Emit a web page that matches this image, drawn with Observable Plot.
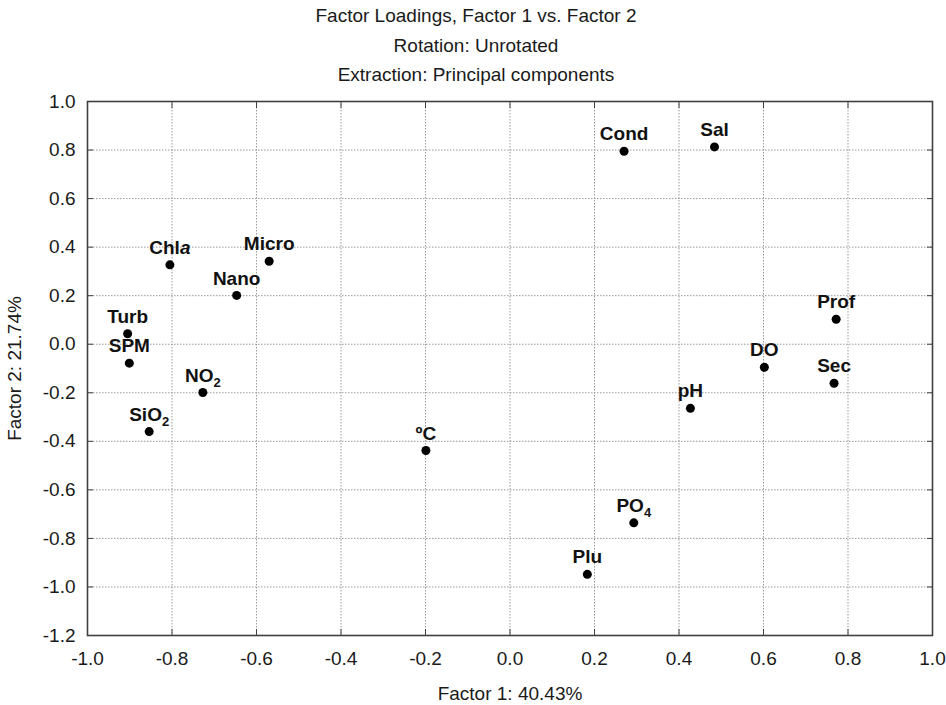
<!DOCTYPE html>
<html><head><meta charset="utf-8">
<script src="https://cdn.jsdelivr.net/npm/d3@7"></script>
<script src="https://cdn.jsdelivr.net/npm/@observablehq/plot@0.6"></script>
<style>
body{margin:0;background:#fff;font-family:"Liberation Sans",Arial,sans-serif;}
#title{height:90px;width:946px;text-align:center;font-size:19px;line-height:29.5px;color:#1a1a1a;padding-top:1px;box-sizing:border-box;padding-left:6px}
</style></head><body>
<div id="title"><div>Factor Loadings, Factor 1 vs. Factor 2</div><div>Rotation: Unrotated</div><div>Extraction: Principal components</div></div>
<div id="chart"></div>
<script>
const variables = ["Cond","Sal","Chla","Micro","Nano","Turb","SPM","NO2","SiO2","ºC","Prof","DO","Sec","pH","PO4","Plu"];
const factor1 = [0.270,0.484,-0.805,-0.570,-0.647,-0.905,-0.901,-0.727,-0.854,-0.199,0.772,0.602,0.767,0.427,0.293,0.183];
const factor2 = [0.795,0.813,0.327,0.342,0.201,0.043,-0.078,-0.199,-0.360,-0.438,0.103,-0.095,-0.161,-0.264,-0.736,-0.948];
const xTicks = [-1.0,-0.8,-0.6,-0.4,-0.2,0.0,0.2,0.4,0.6,0.8,1.0];
const yTicks = [1.0,0.8,0.6,0.4,0.2,0.0,-0.2,-0.4,-0.6,-0.8,-1.0,-1.2];
const xLabel = "Factor 1: 40.43%";
const yLabel = "Factor 2: 21.74%";

const data = variables.map((v, i) => ({name: v, f1: factor1[i], f2: factor2[i]}));
const fmt = d => d.toFixed(1);

const chart = Plot.plot({
  width: 946,
  height: 615,
  marginTop: 11,
  marginBottom: 70,
  marginLeft: 87,
  marginRight: 14,
  style: {fontFamily: '"Liberation Sans", Arial, sans-serif', fontSize: "19px", color: "#1a1a1a", background: "#fff"},
  x: {domain: [-1, 1]},
  y: {domain: [-1.2, 1]},
  marks: [
    Plot.gridX(xTicks, {stroke: "#9a9a9a", strokeOpacity: 1, strokeDasharray: "1.5,1.5"}),
    Plot.gridY(yTicks, {stroke: "#9a9a9a", strokeOpacity: 1, strokeDasharray: "1.5,1.5"}),
    Plot.axisX(xTicks, {anchor: "bottom", tickSize: -6, tickPadding: 22, tickFormat: fmt, fontSize: 19, label: xLabel, labelArrow: "none", labelAnchor: "center", labelOffset: 64, stroke: "#404040", fill: "#1a1a1a"}),
    Plot.axisX(xTicks, {anchor: "top", tickSize: -6, tickFormat: () => "", label: null, stroke: "#404040"}),
    Plot.axisY(yTicks, {anchor: "left", tickSize: -6, tickPadding: 18, tickFormat: fmt, fontSize: 19, label: yLabel, labelArrow: "none", labelAnchor: "center", labelOffset: 80, stroke: "#404040", fill: "#1a1a1a"}),
    Plot.axisY(yTicks, {anchor: "right", tickSize: -6, tickFormat: () => "", label: null, stroke: "#404040"}),
    Plot.frame({stroke: "#404040", strokeWidth: 1.6}),
    Plot.dot(data, {x: "f1", y: "f2", r: 4.5, fill: "#000", stroke: null}),
    Plot.text(data, {x: "f1", y: "f2", text: "name", dy: -17, lineAnchor: "middle", fontWeight: "bold", fontSize: 19, fill: "#111", className: "ptlabels"})
  ]
});
document.getElementById("chart").appendChild(chart);

// subscripts and italics in labels
chart.querySelectorAll("g.ptlabels text").forEach(t => {
  const s = t.textContent;
  const m = s.match(/^([A-Za-z]+)(\d)$/);
  if (m) {
    t.textContent = "";
    const a = document.createElementNS("http://www.w3.org/2000/svg", "tspan");
    a.textContent = m[1];
    const b = document.createElementNS("http://www.w3.org/2000/svg", "tspan");
    b.textContent = m[2];
    b.setAttribute("font-size", "13");
    b.setAttribute("dy", "5");
    t.appendChild(a); t.appendChild(b);
  } else if (s === "Chla") {
    t.textContent = "";
    const a = document.createElementNS("http://www.w3.org/2000/svg", "tspan");
    a.textContent = "Chl";
    const b = document.createElementNS("http://www.w3.org/2000/svg", "tspan");
    b.textContent = "a";
    b.setAttribute("font-style", "italic");
    t.appendChild(a); t.appendChild(b);
  }
});
</script>
</body></html>
